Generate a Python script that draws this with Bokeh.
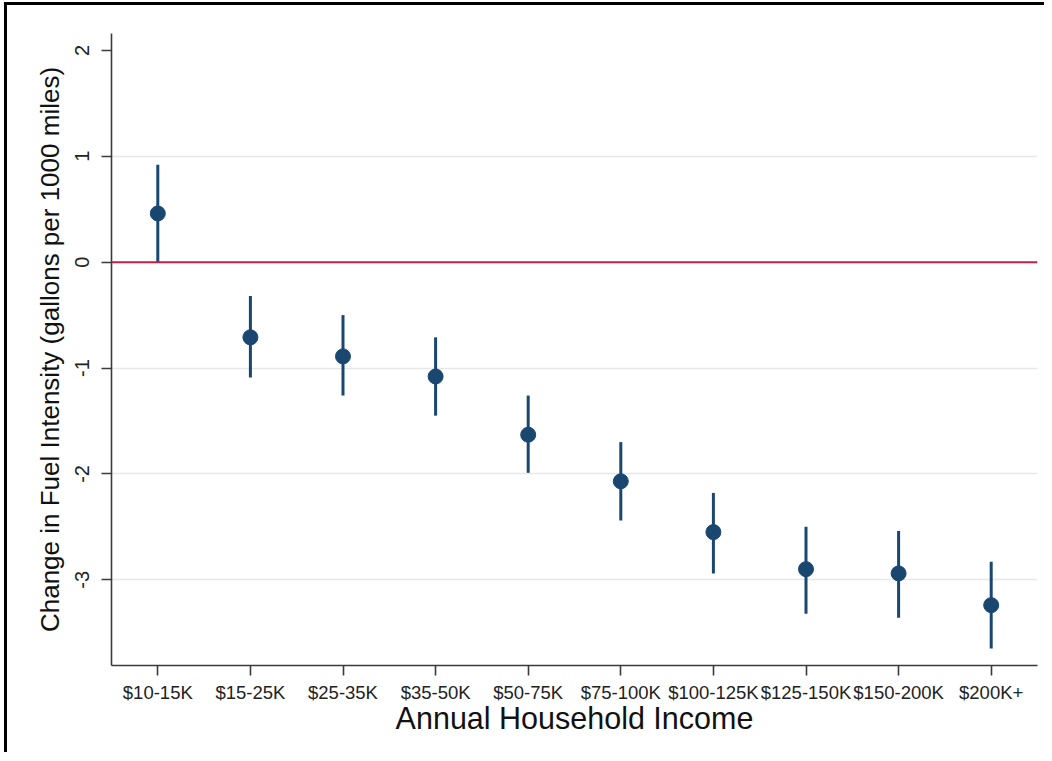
from bokeh.plotting import figure
from bokeh.models import ColumnDataSource, Range1d, FixedTicker, Span
from bokeh.embed import file_html
from bokeh.resources import INLINE

# Data
categories = ["$10-15K", "$15-25K", "$25-35K", "$35-50K", "$50-75K",
              "$75-100K", "$100-125K", "$125-150K", "$150-200K", "$200K+"]
estimates = [0.46, -0.71, -0.89, -1.08, -1.63, -2.07, -2.55, -2.90, -2.94, -3.24]
ci_upper = [0.92, -0.32, -0.50, -0.71, -1.26, -1.70, -2.18, -2.50, -2.54, -2.83]
ci_lower = [0.00, -1.09, -1.26, -1.45, -1.99, -2.44, -2.94, -3.32, -3.36, -3.65]
y_ticks = [-3, -2, -1, 0, 1, 2]
y_tick_labels = ["-3", "-2", "-1", "0", "1", "2"]

FONT = "Liberation Sans"
NAVY = "#1a476f"

source = ColumnDataSource(data={
    "cat": categories,
    "est": estimates,
    "lo": ci_lower,
    "hi": ci_upper,
})

p = figure(
    x_range=categories,
    y_range=Range1d(-3.81, 2.16),
    width=1040,
    height=750,
    output_backend="svg",
    toolbar_location=None,
    min_border_left=104,
    min_border_right=10,
    min_border_top=28,
    min_border_bottom=90,
)
p.x_range.range_padding = 0.0
p.outline_line_color = None
p.background_fill_color = "white"
p.border_fill_color = "white"
# frame lines of the original screenshot (top and left)
p.styles = {"border-top": "3px solid black", "border-left": "3px solid black",
            "margin-left": "4px", "margin-top": "2px", "padding-bottom": "8px"}

# Grid: light horizontal lines only
p.xgrid.grid_line_color = None
p.ygrid.ticker = FixedTicker(ticks=[-3, -2, -1, 1])
p.ygrid.grid_line_color = "#e8e8e8"
p.ygrid.grid_line_width = 1.5

# Axes
p.yaxis.ticker = FixedTicker(ticks=y_ticks)
p.yaxis.major_label_overrides = dict(zip(y_ticks, y_tick_labels))
p.yaxis.minor_tick_line_color = None
for ax in (p.xaxis[0], p.yaxis[0]):
    ax.axis_line_color = "#3a3a3a"
    ax.axis_line_width = 1.6
    ax.major_tick_line_color = "#3a3a3a"
    ax.major_tick_line_width = 1.6
    ax.major_tick_out = 10
    ax.major_tick_in = 0
    ax.major_label_text_font = FONT
    ax.major_label_text_color = "#222222"
    ax.axis_label_text_font = FONT
    ax.axis_label_text_font_style = "normal"
    ax.axis_label_text_color = "#111111"

p.yaxis.major_label_orientation = "parallel"
p.yaxis.major_label_text_font_size = "20px"
p.yaxis.major_label_standoff = 12
p.yaxis.axis_label = "Change in Fuel Intensity (gallons per 1000 miles)"
p.yaxis.axis_label_text_font_size = "26px"
p.yaxis.axis_label_standoff = 8

p.xaxis.major_label_text_font_size = "18.5px"
p.xaxis.major_label_standoff = 6
p.xaxis.axis_label = "Annual Household Income"
p.xaxis.axis_label_text_font_size = "30.5px"
p.xaxis.axis_label_standoff = -5

# Zero reference line
p.add_layout(Span(location=0, dimension="width", line_color="#c41e4a", line_width=2))

# Confidence intervals and point estimates
p.segment(x0="cat", y0="lo", x1="cat", y1="hi", source=source,
          line_color=NAVY, line_width=3)
p.scatter(x="cat", y="est", source=source, size=15,
          fill_color=NAVY, line_color=NAVY)

open("out.html", "w").write(file_html(p, INLINE))
